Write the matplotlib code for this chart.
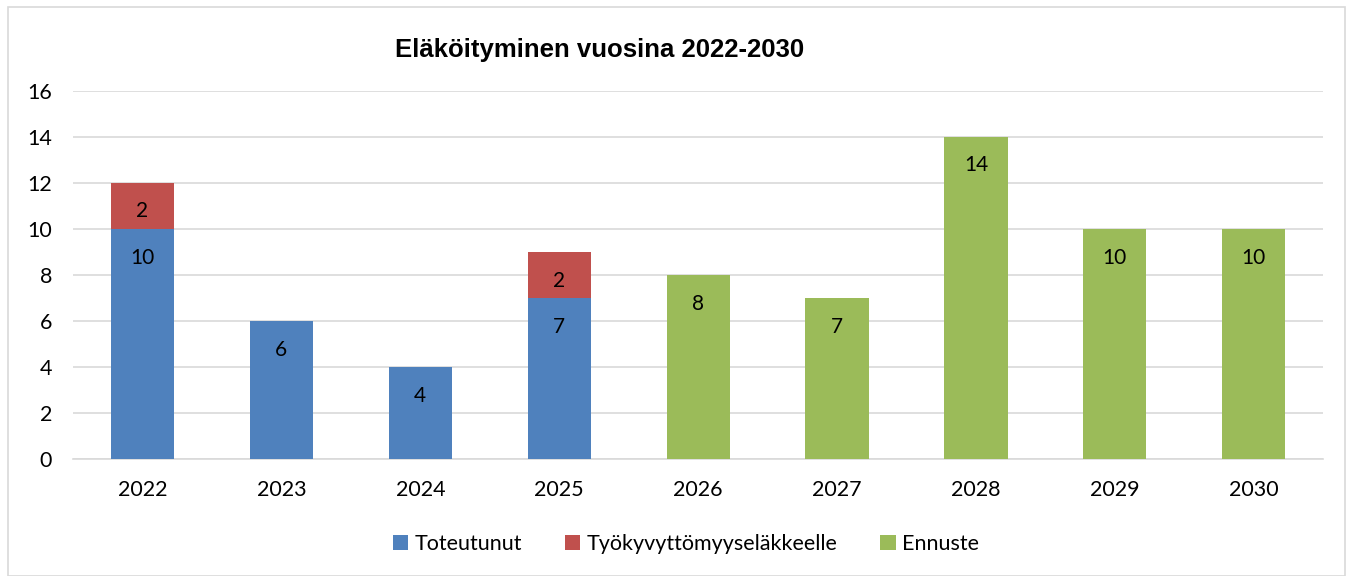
import matplotlib.pyplot as plt
import numpy as np
from matplotlib.patches import Rectangle

years = ["2022", "2023", "2024", "2025", "2026", "2027", "2028", "2029", "2030"]
toteutunut = [10, 6, 4, 7, 0, 0, 0, 0, 0]
tyokyvyttomyys = [2, 0, 0, 2, 0, 0, 0, 0, 0]
ennuste = [0, 0, 0, 0, 8, 7, 14, 10, 10]

series = [
    ("Toteutunut", toteutunut, "#4F81BD"),
    ("Työkyvyttömyyseläkkeelle", tyokyvyttomyys, "#C0504D"),
    ("Ennuste", ennuste, "#9BBB59"),
]

plt.rcParams['font.family'] = ['Lato', 'DejaVu Sans']

fig = plt.figure(figsize=(13.53, 5.76), dpi=100)
ax = fig.add_axes([0.054, 0.203, 0.924, 0.639])

# light frame around the whole chart
fig.patches.append(Rectangle((0.006, 0.0), 0.988, 0.988, transform=fig.transFigure,
                             fill=False, edgecolor="#D9D9D9", linewidth=1.2))

x = np.arange(len(years))
bottom = np.zeros(len(years))
for name, vals, color in series:
    vals = np.array(vals, dtype=float)
    ax.bar(x, vals, 0.455, bottom=bottom, color=color, label=name, zorder=3)
    for xi, v, b in zip(x, vals, bottom):
        if v > 0:
            ax.annotate(str(int(v)), (xi, b + v), xytext=(0, -20.5), textcoords="offset points",
                        ha="center", va="center", fontsize=15, color="black", zorder=4)
    bottom += vals

ax.set_xlim(-0.5, len(years) - 0.5)
ax.set_ylim(0, 16)
ax.set_yticks(range(0, 17, 2))
ax.set_xticks(x)
ax.set_xticklabels(years)
ax.tick_params(axis="both", length=0, labelsize=15.5, colors="black")
ax.tick_params(axis="y", pad=15)
ax.tick_params(axis="x", pad=15)
ax.yaxis.grid(True, color="#D9D9D9", linewidth=1.2, zorder=0)
for s in ["top", "right", "left"]:
    ax.spines[s].set_visible(False)
ax.spines["bottom"].set_color("#D9D9D9")
ax.spines["bottom"].set_linewidth(1.2)

fig.text(0.443, 0.913, "Eläköityminen vuosina 2022-2030", ha="center", va="center",
         fontsize=18.5, fontweight="bold", family=["Liberation Sans", "DejaVu Sans"])

fig.legend(loc="center", bbox_to_anchor=(0.507, 0.055), ncol=3, frameon=False,
           fontsize=15.5, handlelength=0.7, handleheight=0.7, handletextpad=0.3,
           columnspacing=2.0)

fig.savefig("out.png", dpi=100)
